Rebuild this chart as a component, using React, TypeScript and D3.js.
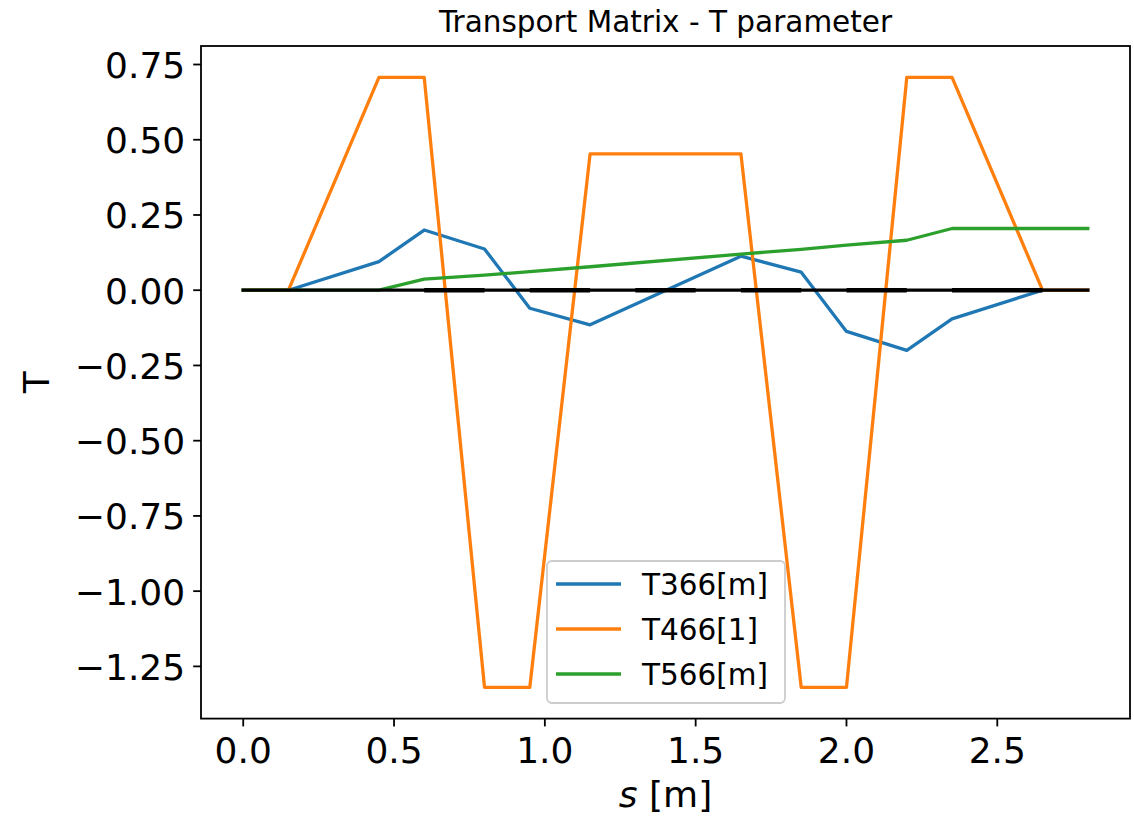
import React from "react";
import * as d3 from "d3";

// ---- data ----
const sT366 = [0, 0.15, 0.45, 0.6, 0.8, 0.95, 1.15, 1.65, 1.85, 2.0, 2.2, 2.35, 2.65, 2.8];
const vT366 = [0, 0, 0.095, 0.2, 0.137, -0.06, -0.115, 0.113, 0.06, -0.137, -0.2, -0.095, 0, 0];

const sT466 = [0, 0.15, 0.45, 0.6, 0.8, 0.95, 1.15, 1.65, 1.85, 2.0, 2.2, 2.35, 2.65, 2.8];
const vT466 = [0, 0, 0.707, 0.707, -1.32, -1.32, 0.453, 0.453, -1.32, -1.32, 0.707, 0.707, 0, 0];

const sT566 = [0, 0.15, 0.45, 0.6, 0.8, 0.95, 1.15, 1.65, 1.85, 2.0, 2.2, 2.35, 2.65, 2.8];
const vT566 = [0, 0, 0, 0.037, 0.05, 0.062, 0.078, 0.12, 0.136, 0.15, 0.166, 0.205, 0.205, 0.205];

// zero-valued components drawn in black: thin full span + heavier element spans
const zeroSpan = [0, 2.8];
const zeroHeavyStart = [0.6, 0.95, 1.3, 1.65, 2.0, 2.35];
const zeroHeavyEnd = [0.8, 1.15, 1.5, 1.85, 2.2, 2.65];

const seriesNames = ["T366[m]", "T466[1]", "T566[m]"];
const seriesColors = ["#1f77b4", "#ff7f0e", "#2ca02c"];

const xTicks = [0, 0.5, 1.0, 1.5, 2.0, 2.5];
const yTicks = [0.75, 0.5, 0.25, 0, -0.25, -0.5, -0.75, -1.0, -1.25];

const titleText = "Transport Matrix - T parameter";

export default function App() {
  const W = 1134, H = 819;
  const left = 201, right = 1130, top = 46, bottom = 718.6;
  const x = d3.scaleLinear().domain([-0.14, 2.94]).range([left, right]);
  const y = d3.scaleLinear().domain([-1.4235, 0.8115]).range([bottom, top]);
  const line = d3.line<[number, number]>().x(d => x(d[0])).y(d => y(d[1]));

  const series = [
    sT366.map((s, i) => [s, vT366[i]] as [number, number]),
    sT466.map((s, i) => [s, vT466[i]] as [number, number]),
    sT566.map((s, i) => [s, vT566[i]] as [number, number]),
  ];

  const font = "DejaVu Sans, sans-serif";
  const fmtX = d3.format(".1f");
  const fmtY = (v: number) => d3.format(".2f")(v).replace("-", "\u2212");
  const tickLen = 7.8;

  const legX = 547, legY = 561, legW = 238, legH = 142;
  const rowY = [584, 629, 674];

  return (
    <svg width={W} height={H} style={{ position: "absolute", left: 0, top: 0, background: "#fff" }} fontFamily={font}>
      <rect x={0} y={0} width={W} height={H} fill="#fff" />
      <defs>
        <clipPath id="plotclip">
          <rect x={left} y={top} width={right - left} height={bottom - top} />
        </clipPath>
      </defs>
      <g clipPath="url(#plotclip)">
        {series.map((d, i) => (
          <path key={i} d={line(d) || ""} fill="none" stroke={seriesColors[i]} strokeWidth={3.3} strokeLinejoin="round" strokeLinecap="square" />
        ))}
        <line x1={x(zeroSpan[0])} x2={x(zeroSpan[1])} y1={y(0)} y2={y(0)} stroke="#000" strokeWidth={3.3} strokeLinecap="square" />
        {zeroHeavyStart.map((s, i) => (
          <line key={i} x1={x(s)} x2={x(zeroHeavyEnd[i])} y1={y(0)} y2={y(0)} stroke="#000" strokeWidth={4.6} />
        ))}
      </g>
      {/* frame */}
      <rect x={left} y={top} width={right - left} height={bottom - top} fill="none" stroke="#000" strokeWidth={1.8} />
      {/* x ticks */}
      {xTicks.map(t => (
        <g key={"x" + t}>
          <line x1={x(t)} x2={x(t)} y1={bottom} y2={bottom + tickLen} stroke="#000" strokeWidth={1.8} />
          <text x={x(t)} y={763} textAnchor="middle" fontSize={36} fill="#000">{fmtX(t)}</text>
        </g>
      ))}
      {/* y ticks */}
      {yTicks.map(t => (
        <g key={"y" + t}>
          <line x1={left - tickLen} x2={left} y1={y(t)} y2={y(t)} stroke="#000" strokeWidth={1.8} />
          <text x={left - tickLen - 8} y={y(t) + 13.5} textAnchor="end" fontSize={36} fill="#000">{fmtY(t)}</text>
        </g>
      ))}
      {/* axis labels */}
      <text x={(left + right) / 2} y={807} textAnchor="middle" fontSize={36} fill="#000">
        <tspan fontStyle="italic">s</tspan> [m]
      </text>
      <text transform={`translate(49,${(top + bottom) / 2}) rotate(-90)`} textAnchor="middle" fontSize={36} fill="#000">T</text>
      {/* title */}
      <text x={(left + right) / 2} y={32} textAnchor="middle" fontSize={29.5} fill="#000">{titleText}</text>
      {/* legend */}
      <rect x={legX} y={legY} width={legW} height={legH} rx={5} ry={5} fill="#fff" fillOpacity={0.8} stroke="#cccccc" strokeWidth={1.8} />
      {seriesNames.map((n, i) => (
        <g key={n}>
          <line x1={556} x2={621} y1={rowY[i]} y2={rowY[i]} stroke={seriesColors[i]} strokeWidth={3.3} />
          <text x={642} y={rowY[i] + 10.8} fontSize={29.5} fill="#000">{n}</text>
        </g>
      ))}
    </svg>
  );
}
